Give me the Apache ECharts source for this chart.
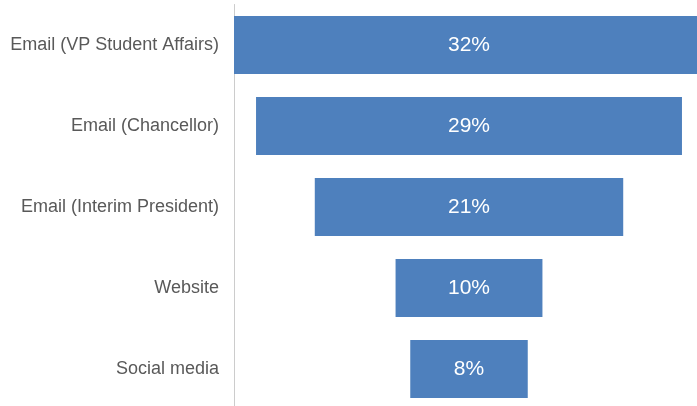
<!DOCTYPE html>
<html>
<head>
<meta charset="utf-8">
<script src="https://cdn.jsdelivr.net/npm/echarts@6/dist/echarts.min.js"></script>
<style>
  html, body { margin: 0; padding: 0; background: #fff; }
  #chart { width: 697px; height: 406px; }
</style>
</head>
<body>
<div id="chart"></div>
<script>
// Channels, top to bottom
const categories = [
  'Email (VP Student Affairs)',
  'Email (Chancellor)',
  'Email (Interim President)',
  'Website',
  'Social media'
];
// Share of respondents (%)
const shares = [32, 29, 21, 10, 8];

// Bars are centred on a common axis: a transparent spacer pushes each bar in
const centreSpan = 32;
const spacers = shares.map(v => (centreSpan - v) / 2);

const chart = echarts.init(document.getElementById('chart'), null, { renderer: 'canvas' });
chart.setOption({
  animation: false,
  grid: {
    left: 234, top: 4.5, width: 470, height: 405,
    containLabel: false, outerBoundsMode: 'none'
  },
  xAxis: {
    type: 'value', min: 0, max: centreSpan,
    show: false
  },
  yAxis: {
    type: 'category',
    data: categories,
    inverse: true,
    axisLine: { show: true, lineStyle: { color: '#cccccc', width: 1 } },
    axisTick: { show: false },
    axisLabel: {
      color: '#595959', fontSize: 18, margin: 15,
      fontFamily: 'Liberation Sans, Arial, sans-serif'
    }
  },
  series: [
    {
      type: 'bar', stack: 'f', data: spacers,
      itemStyle: { color: 'transparent' },
      barWidth: '71.6%', silent: true
    },
    {
      type: 'bar', stack: 'f', data: shares,
      barWidth: '71.6%',
      itemStyle: { color: '#4e80bd' },
      label: {
        show: true, position: 'inside', color: '#ffffff', fontSize: 21,
        fontFamily: 'Liberation Sans, Arial, sans-serif',
        formatter: p => p.value + '%'
      }
    }
  ]
});
</script>
</body>
</html>
